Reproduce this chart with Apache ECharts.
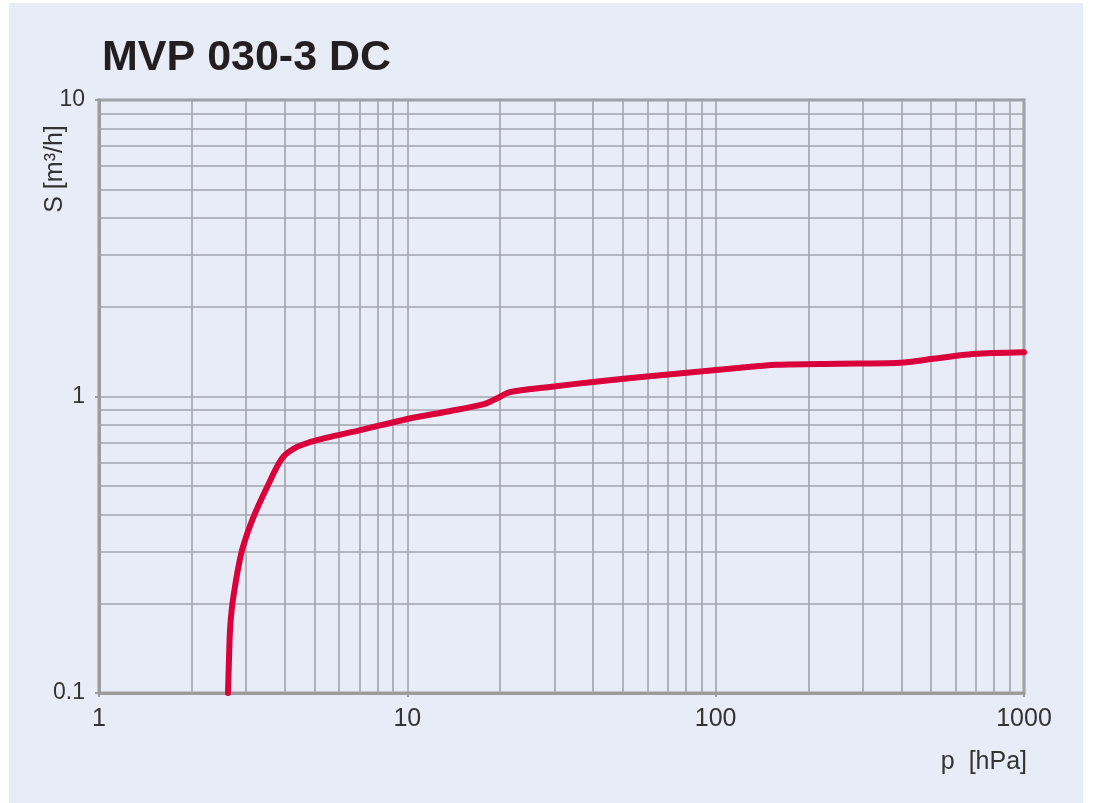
<!DOCTYPE html>
<html>
<head>
<meta charset="utf-8">
<title>MVP 030-3 DC</title>
<script src="https://cdn.jsdelivr.net/npm/echarts@6/dist/echarts.min.js"></script>
<style>
  html, body { margin: 0; padding: 0; background: #fff; }
  #chart { width: 1094px; height: 803px; }
</style>
</head>
<body>
<div id="chart"></div>
<script>
// pumping speed curve
const pressure = [2.62, 2.64, 2.66, 2.70, 2.76, 2.84, 2.93, 3.14, 3.51, 3.93, 4.39, 5.1, 7.04, 10, 13.5, 17.6, 19.5, 21.5, 29, 40, 61, 111, 158, 250, 396, 507, 684, 1000];
const speed = [0.1, 0.13, 0.163, 0.195, 0.228, 0.27, 0.311, 0.383, 0.495, 0.62, 0.676, 0.713, 0.77, 0.84, 0.89, 0.94, 0.985, 1.035, 1.077, 1.12, 1.17, 1.24, 1.28, 1.29, 1.30, 1.34, 1.39, 1.41];

// minor grid values for the log scales
const xMinor = [2, 3, 4, 5, 6, 7, 8, 9, 20, 30, 40, 50, 60, 70, 80, 90, 200, 300, 400, 500, 600, 700, 800, 900];
const yMinor = [0.2, 0.3, 0.4, 0.5, 0.6, 0.7, 0.8, 0.9, 2, 3, 4, 5, 6, 7, 8, 9];

const gridColor = '#a2a4ac';
const frameColor = '#9c9c9e';
const labelFont = '"Liberation Sans", Arial, sans-serif';

const chart = echarts.init(document.getElementById('chart'));

const minorLines = xMinor.map(v => ({ xAxis: v })).concat(yMinor.map(v => ({ yAxis: v })));

chart.setOption({
  backgroundColor: '#ffffff',
  animation: false,
  graphic: [
    {
      type: 'rect', z: -10, silent: true,
      shape: { x: 9, y: 3, width: 1074, height: 800 },
      style: { fill: '#e8ecf7' }
    },
    {
      type: 'text', left: 102, top: 37,
      style: { text: 'MVP 030-3 DC', font: 'bold 43px ' + labelFont, fill: '#231f20' }
    },
    {
      type: 'text', x: 55, y: 169, rotation: Math.PI / 2,
      style: { text: 'S [m³/h]', font: '25px ' + labelFont, fill: '#333', align: 'center', verticalAlign: 'middle' }
    },
    {
      type: 'text', x: 1027, y: 762,
      style: { text: 'p  [hPa]', font: '25px ' + labelFont, fill: '#333', align: 'right', verticalAlign: 'middle' }
    }
  ],
  grid: {
    left: 99, right: 70, top: 100, bottom: 110,
    show: true, borderColor: frameColor, borderWidth: 3, backgroundColor: 'transparent'
  },
  xAxis: {
    type: 'log', logBase: 10, min: 1, max: 1000,
    axisLine: { show: true, lineStyle: { color: frameColor, width: 3 } },
    axisTick: { show: true, length: 4, lineStyle: { color: frameColor, width: 2 } },
    axisLabel: { margin: 14, fontSize: 25, fontFamily: labelFont, color: '#333',
      formatter: v => String(+v.toPrecision(4)) },
    splitLine: { show: true, lineStyle: { color: gridColor, width: 1.6 } }
  },
  yAxis: {
    type: 'log', logBase: 10, min: 0.1, max: 10,
    axisLine: { show: true, lineStyle: { color: frameColor, width: 3 } },
    axisTick: { show: true, length: 4, lineStyle: { color: frameColor, width: 2 } },
    axisLabel: { margin: 14, fontSize: 23, fontFamily: labelFont, color: '#333',
      formatter: v => String(+v.toPrecision(3)) },
    splitLine: { show: true, lineStyle: { color: gridColor, width: 1.6 } }
  },
  series: [
    {
      type: 'line', data: [], z: 1, silent: true,
      markLine: {
        silent: true, symbol: ['none', 'none'], animation: false,
        label: { show: false },
        lineStyle: { type: 'solid', color: gridColor, width: 1.6 },
        emphasis: { disabled: true },
        data: minorLines
      }
    },
    {
      type: 'line', z: 5,
      data: pressure.map((p, i) => [p, speed[i]]),
      smooth: 0.3, showSymbol: false, symbol: 'none',
      lineStyle: { color: '#d9003c', width: 6, cap: 'round', join: 'round' }
    }
  ]
});
</script>
</body>
</html>
